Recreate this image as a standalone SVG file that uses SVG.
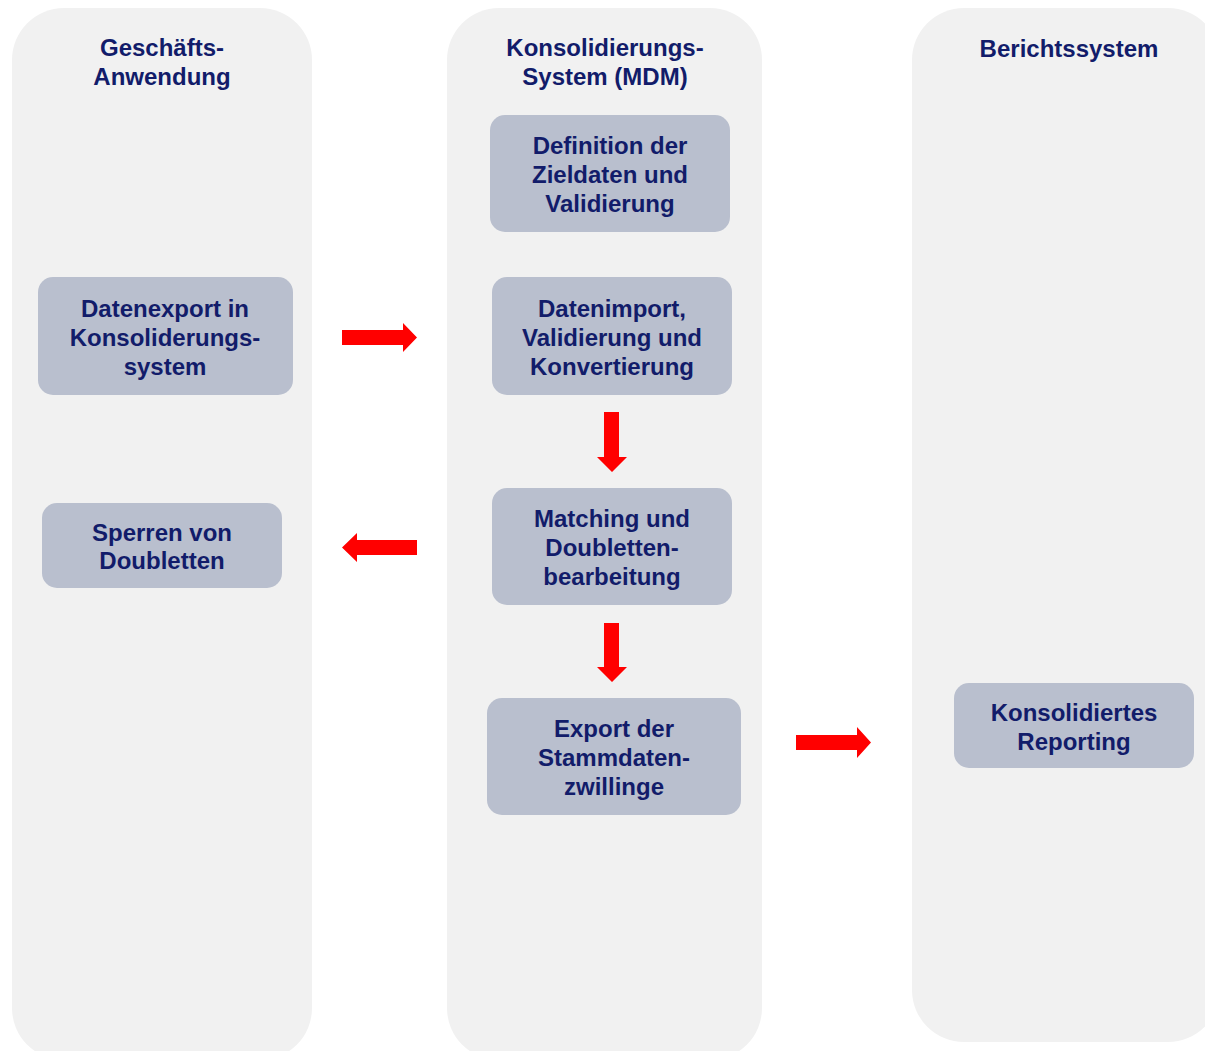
<svg xmlns="http://www.w3.org/2000/svg" width="1205" height="1051" viewBox="0 0 1205 1051">
<style>
.lane{fill:#F1F1F1;}
.box{fill:#B9BFCE;}
.t{font-family:"Liberation Sans",Arial,sans-serif;font-weight:bold;font-size:24px;fill:#121C6A;text-anchor:middle;dominant-baseline:central;}
.arr{fill:#FF0000;}
</style>
<rect width="1205" height="1051" fill="#FFFFFF"/>
<g id="lane-geschaeft">
<rect class="lane" x="12" y="8" width="300" height="1052" rx="52" ry="52"/>
<text class="t" x="162" y="47">Geschäfts-</text>
<text class="t" x="162" y="76">Anwendung</text>
</g>
<g id="lane-mdm">
<rect class="lane" x="447" y="8" width="315" height="1052" rx="52" ry="52"/>
<text class="t" x="605" y="47">Konsolidierungs-</text>
<text class="t" x="605" y="76">System (MDM)</text>
</g>
<g id="lane-bericht">
<rect class="lane" x="912" y="8" width="308" height="1034" rx="52" ry="52"/>
<text class="t" x="1069" y="48">Berichtssystem</text>
</g>
<g id="n-definition">
<rect class="box" x="490" y="115" width="240" height="117" rx="15"/>
<text class="t" x="610" y="145">Definition der</text>
<text class="t" x="610" y="174">Zieldaten und</text>
<text class="t" x="610" y="203">Validierung</text>
</g>
<g id="n-datenexport">
<rect class="box" x="38" y="277" width="255" height="118" rx="15"/>
<text class="t" x="165" y="308">Datenexport in</text>
<text class="t" x="165" y="337">Konsoliderungs-</text>
<text class="t" x="165" y="366">system</text>
</g>
<g id="n-datenimport">
<rect class="box" x="492" y="277" width="240" height="118" rx="15"/>
<text class="t" x="612" y="308">Datenimport,</text>
<text class="t" x="612" y="337">Validierung und</text>
<text class="t" x="612" y="366">Konvertierung</text>
</g>
<g id="n-sperren">
<rect class="box" x="42" y="503" width="240" height="85" rx="15"/>
<text class="t" x="162" y="532">Sperren von</text>
<text class="t" x="162" y="560">Doubletten</text>
</g>
<g id="n-matching">
<rect class="box" x="492" y="488" width="240" height="117" rx="15"/>
<text class="t" x="612" y="518">Matching und</text>
<text class="t" x="612" y="547">Doubletten-</text>
<text class="t" x="612" y="576">bearbeitung</text>
</g>
<g id="n-export">
<rect class="box" x="487" y="698" width="254" height="117" rx="15"/>
<text class="t" x="614" y="728">Export der</text>
<text class="t" x="614" y="757">Stammdaten-</text>
<text class="t" x="614" y="786">zwillinge</text>
</g>
<g id="n-reporting">
<rect class="box" x="954" y="683" width="240" height="85" rx="15"/>
<text class="t" x="1074" y="712">Konsolidiertes</text>
<text class="t" x="1074" y="741">Reporting</text>
</g>
<g id="connectors">
<path class="arr" d="M342,330 H403 V323 L417,337.5 L403,352 V345 H342 Z"/>
<path class="arr" d="M417,540 H357 V533 L342,547.5 L357,562 V555 H417 Z"/>
<path class="arr" d="M604,412 V457 H597 L612,472 L627,457 H619 V412 Z"/>
<path class="arr" d="M604,623 V667 H597 L612,682 L627,667 H619 V623 Z"/>
<path class="arr" d="M796,735 H857 V727 L871,742.5 L857,758 V750 H796 Z"/>
</g>
</svg>
